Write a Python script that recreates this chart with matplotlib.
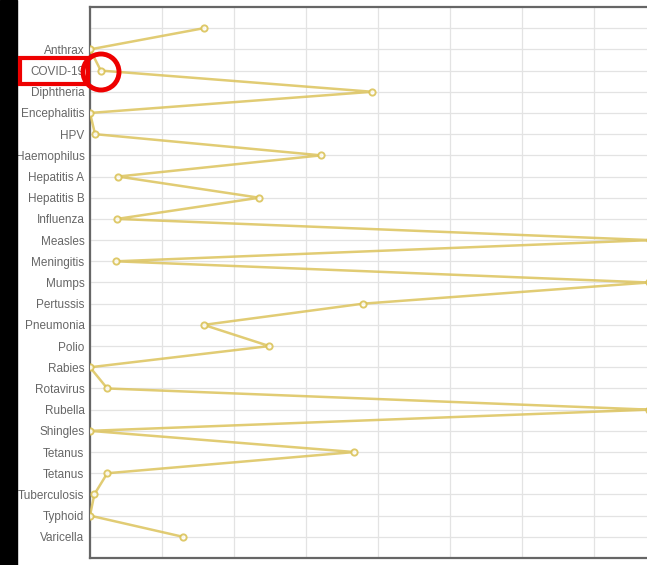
import matplotlib.pyplot as plt
from matplotlib.patches import Rectangle, Ellipse

plt.rcParams['font.family'] = ['Liberation Sans', 'DejaVu Sans']

# categories top to bottom (first slot has no label)
diseases = ['', 'Anthrax', 'COVID-19', 'Diphtheria', 'Encephalitis', 'HPV',
            'Haemophilus', 'Hepatitis A', 'Hepatitis B', 'Influenza', 'Measles',
            'Meningitis', 'Mumps', 'Pertussis', 'Pneumonia', 'Polio', 'Rabies',
            'Rotavirus', 'Rubella', 'Shingles', 'Tetanus', 'Tetanus',
            'Tuberculosis', 'Typhoid', 'Varicella']
values = [1.58, 0.0, 0.15, 3.92, 0.0, 0.07, 3.21, 0.39, 2.35, 0.375, 7.78,
          0.36, 7.76, 3.79, 1.58, 2.49, 0.0, 0.24, 7.77, 0.0, 3.67, 0.24,
          0.06, 0.0, 1.29]

pos = list(range(len(diseases)))

fig = plt.figure(figsize=(6.47, 5.65), dpi=100)
ax = fig.add_axes([90 / 647, 7 / 565, 576 / 647, 551 / 565])

ax.plot(values, pos, color='#dcc35c', lw=1.8, alpha=0.85, zorder=3,
        marker='o', ms=4.5, mfc='white', mec='#d9c050', mew=1.4)

ax.set_xlim(0, 8)
ax.set_ylim(25, -1)
ax.set_yticks(pos)
ax.set_yticklabels(diseases, fontsize=8.5, color='#666666')
ax.set_xticks(range(9))
ax.set_xticklabels([])
ax.tick_params(length=0, pad=4)
ax.grid(True, color='#e3e3e3', lw=0.9)
ax.set_axisbelow(True)
for s in ['left', 'top', 'bottom']:
    ax.spines[s].set_color('#666666')
    ax.spines[s].set_linewidth(1.6)
ax.spines['right'].set_visible(False)

# black strip at the left edge
fig.patches.append(Rectangle((0, 0), 17 / 647, 1, transform=fig.transFigure,
                             color='black', zorder=10))
# red highlight box around label and circle around the point
fig.patches.append(Rectangle((20 / 647, 1 - 84 / 565), 68 / 647, 26 / 565,
                             transform=fig.transFigure, fill=False,
                             edgecolor='#ee0000', lw=3, zorder=11))
fig.patches.append(Ellipse((101 / 647, 1 - 72 / 565), 36 / 647, 36 / 565,
                           transform=fig.transFigure, fill=False,
                           edgecolor='#ee0000', lw=3.5, zorder=11))

plt.savefig('out.png', dpi=100)
